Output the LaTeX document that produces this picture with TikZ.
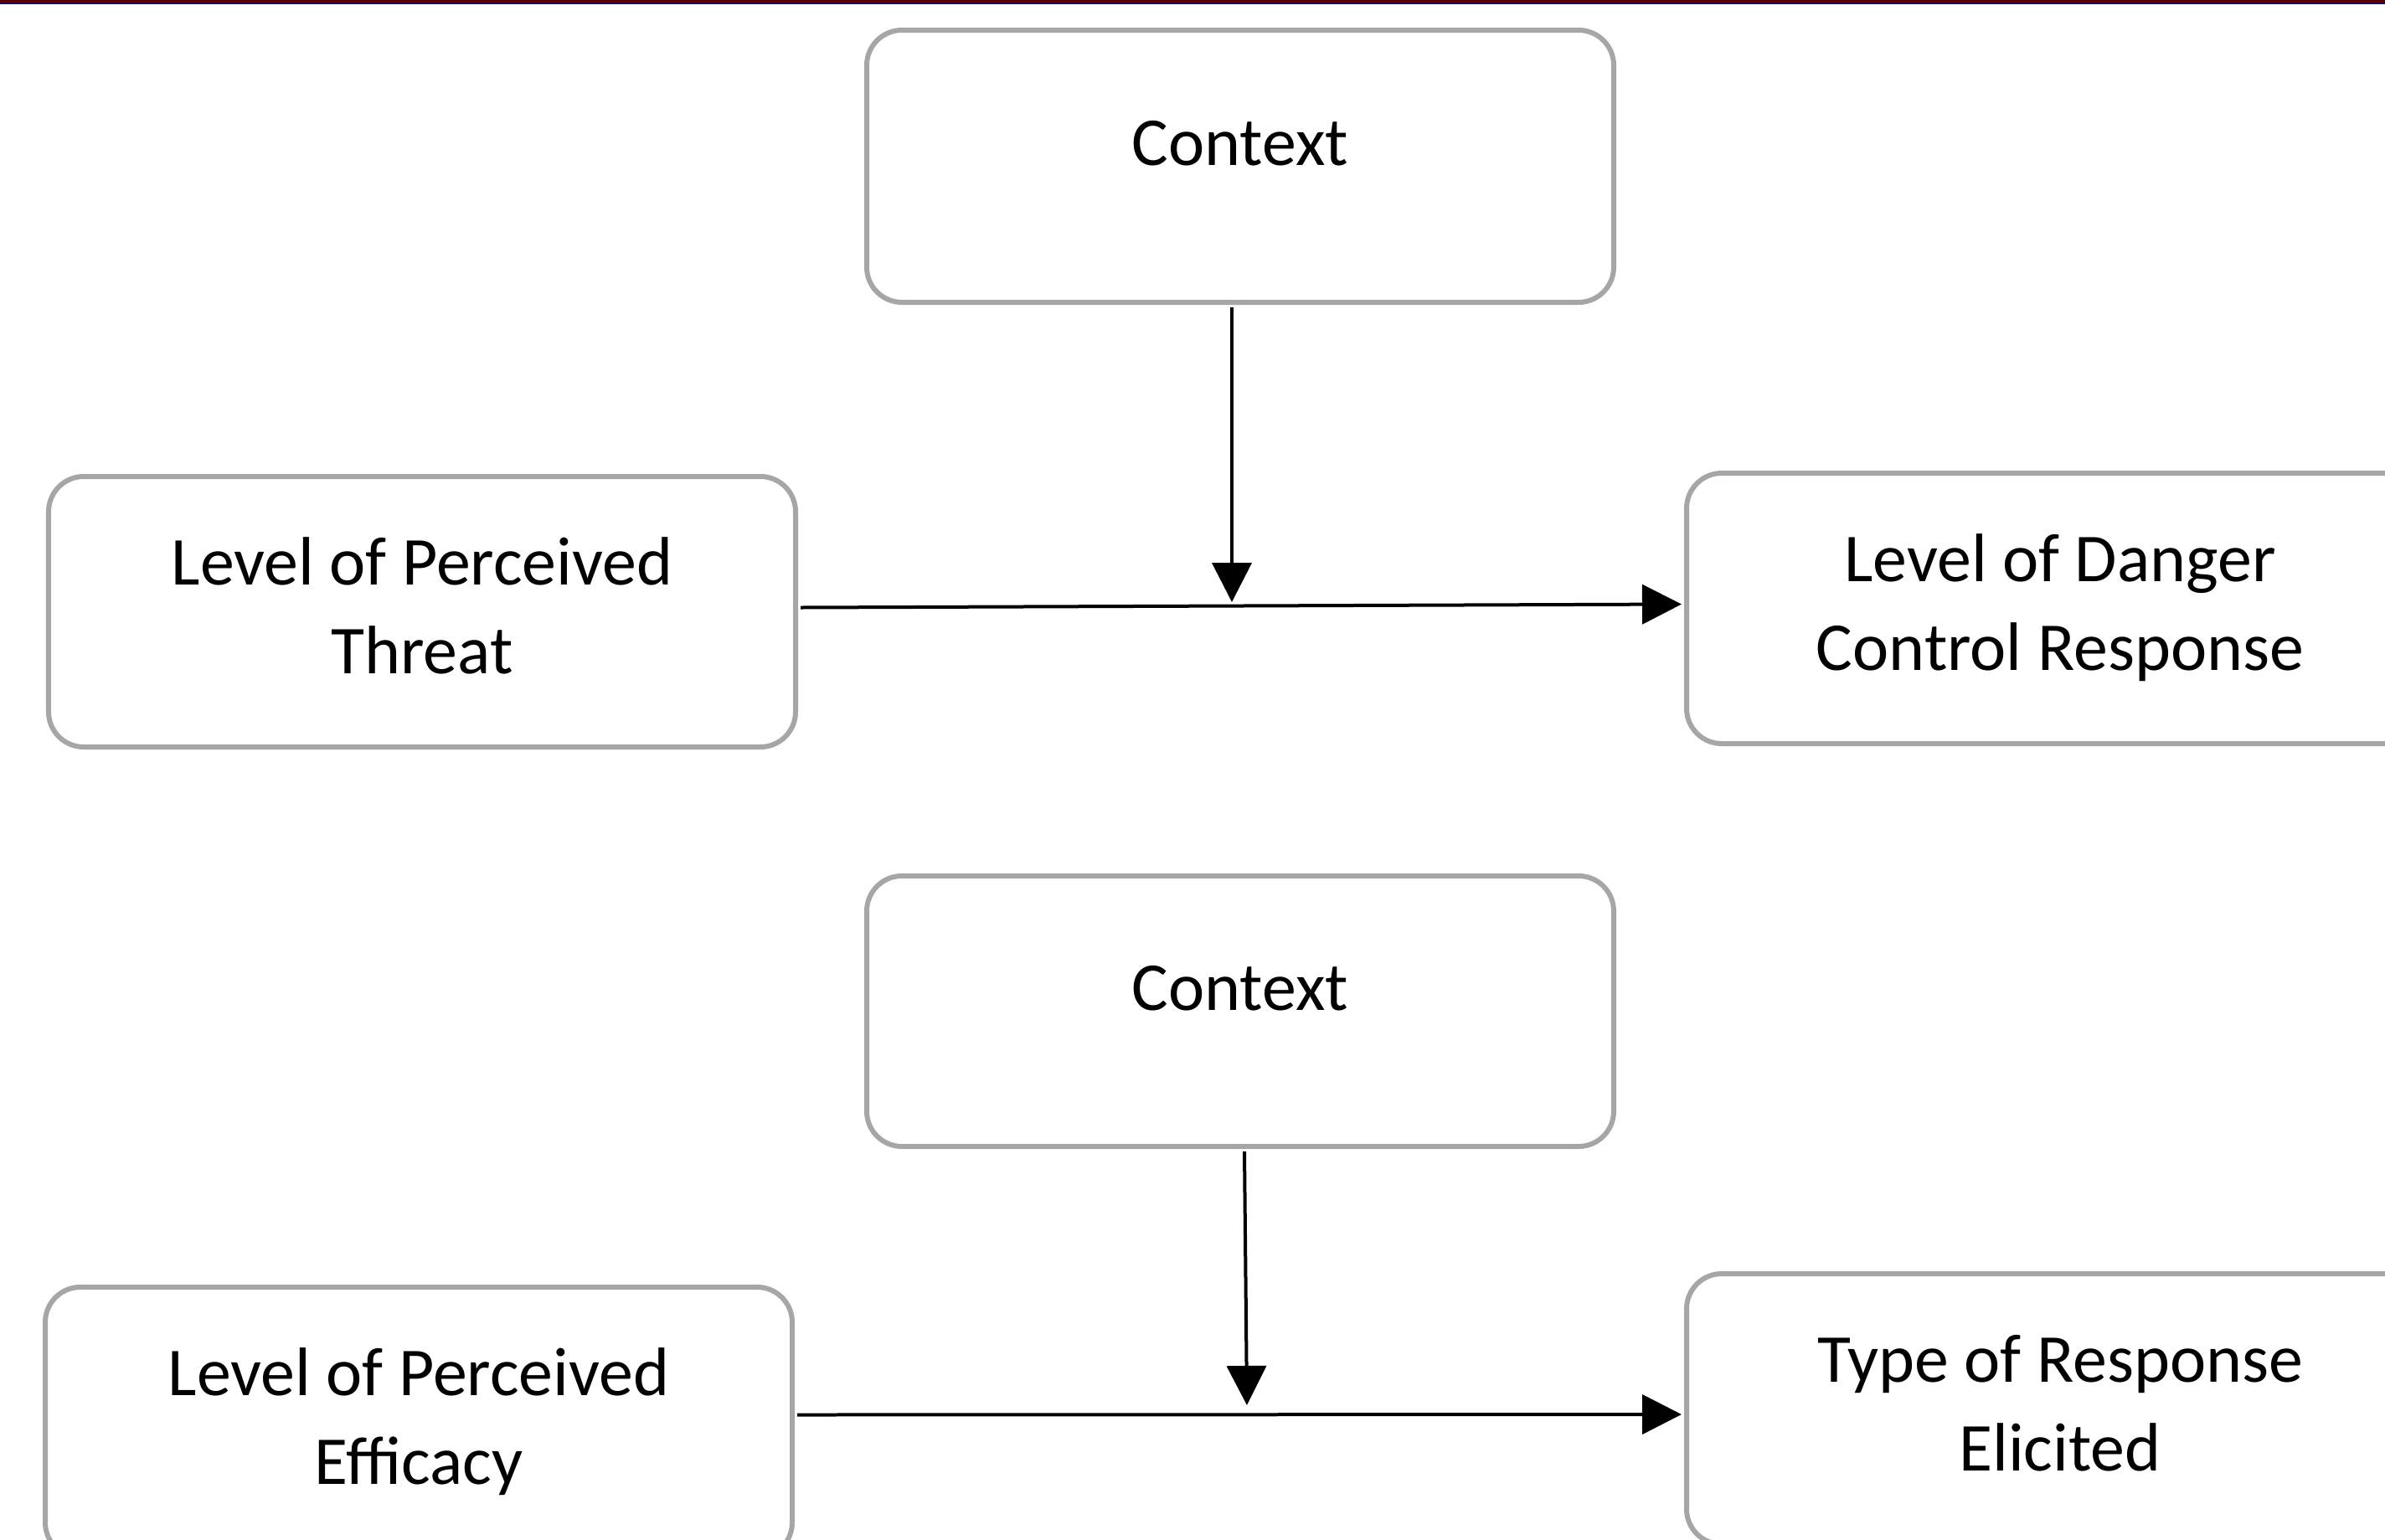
\documentclass[tikz,border=0pt]{standalone}
\usepackage{fontspec}
\setmainfont{Carlito}
\usetikzlibrary{arrows.meta}
\definecolor{boxgray}{HTML}{A6A6A6}
\definecolor{barred}{HTML}{580000}
\definecolor{barblue}{HTML}{00007F}

\begin{document}
\begin{tikzpicture}[
    box/.style={draw=boxgray, line width=0.06cm, rounded corners=0.42cm, minimum width=8.92cm, minimum height=3.23cm, outer sep=0.06cm, align=center, font=\fontsize{23.3pt}{29.9pt}\selectfont},
    twoline/.style={text height=1.65cm, text depth=0.18cm},
    arr/.style={line width=0.04cm, black, -{Triangle[length=0.47cm, width=0.47cm]}}
  ]
      \clip (0,0) rectangle (28.48,-18.38);
      \fill[barred] (0,0) rectangle (28.48,-0.037);
      \fill[barblue] (0,-0.037) rectangle (28.48,-0.05);
      \node[box, minimum height=3.25cm, text depth=0.56cm] (ctxA) at (14.81,-1.985) {Context};
      \node[box, twoline] (threat) at (5.04,-7.305) {Level of Perceived\\Threat};
      \node[box, twoline] (danger) at (24.60,-7.265) {Level of Danger\\Control Response};
      \node[box, text depth=0.56cm] (ctxB) at (14.81,-12.075) {Context};
      \node[box, twoline] (efficacy) at (5.00,-16.985) {Level of Perceived\\Efficacy};
      \node[box, twoline] (type) at (24.60,-16.825) {Type of Response\\Elicited};
      \coordinate (jA) at (14.71,-7.19);
      \coordinate (jB) at (14.89,-16.78);
      \draw[arr] (ctxA.south -| jA) -- (jA);
      \draw[arr] ([yshift=0.05cm]threat.east) -- ([yshift=0.05cm]danger.west);
      \draw[arr] ([xshift=0.05cm]ctxB.south) -- (jB);
      \draw[arr] ([yshift=0.09cm]efficacy.east) -- ([yshift=-0.065cm]type.west);
\end{tikzpicture}
\end{document}
